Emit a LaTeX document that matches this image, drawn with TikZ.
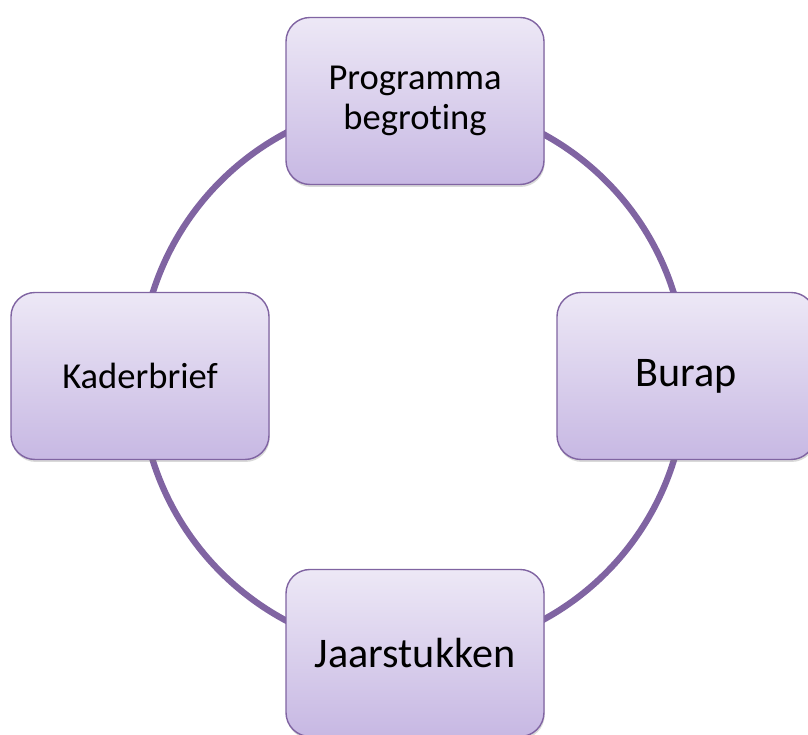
\documentclass[tikz,border=0pt]{standalone}
\usepackage{fontspec}
\setmainfont{Carlito}[Ligatures=NoCommon]
\usetikzlibrary{backgrounds,shadows}
\definecolor{cyclepurple}{RGB}{128,100,162}
\definecolor{boxtop}{RGB}{237,232,246}
\definecolor{boxbottom}{RGB}{199,184,227}
\tikzset{
  stage/.style={draw=cyclepurple,line width=0.8pt,rounded corners=0.48cm,
    top color=boxtop,bottom color=boxbottom,
    minimum width=5.16cm,minimum height=3.34cm,align=center,
    drop shadow={opacity=0.3,shadow xshift=0.4pt,shadow yshift=-1.4pt}},
  smalltext/.style={font=\fontsize{20.8}{22.5}\selectfont},
  bigtext/.style={font=\fontsize{24}{26}\selectfont},
  ring/.style={cyclepurple,line width=3.6pt}
}
\begin{document}
\begin{tikzpicture}
\useasboundingbox (0,0) rectangle (16.16,14.7);
\node[stage,smalltext] (prog) at (8.3,12.68) {Programma\\begroting};
\node[stage,bigtext] (burap) at (13.72,7.18) {Burap};
\node[stage,bigtext] (jaar) at (8.3,1.64) {Jaarstukken};
\node[stage,smalltext] (kader) at (2.8,7.18) {Kaderbrief};
\begin{scope}[on background layer]
\draw[ring] (prog.center) to[bend left=45] (burap.center) to[bend left=45] (jaar.center)
  to[bend left=45] (kader.center) to[bend left=45] (prog.center);
\end{scope}
\end{tikzpicture}
\end{document}
